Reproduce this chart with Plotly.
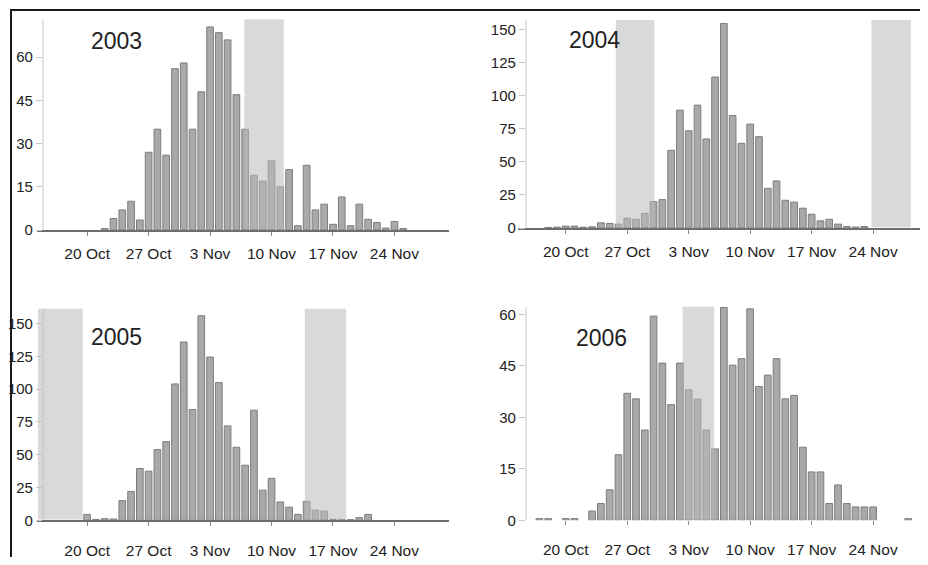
import plotly.graph_objects as go
import pandas as pd

# the page places the figure 8 px from the top-left corner of the window
OFF = 8
W, H = 928 - OFF, 565 - OFF

# ---------------- data (daily counts) ----------------
years = [2003, 2004, 2005, 2006]

start_2003 = "2003-10-22"
vals_2003 = [0.5, 4, 7, 10, 3.5, 27, 35, 26, 56, 58, 35, 48, 70.5, 68.5, 66, 47,
             35, 19, 17, 24, 15, 21, 1.5, 22.5, 7, 9, 2, 11.5, 1.5, 9, 3.75, 2.6,
             0.7, 3, 0.5]

start_2004 = "2004-10-18"
vals_2004 = [0.5, 0.7, 1.5, 1.5, 0.7, 1, 4, 3.5, 3, 7.4, 6.7, 11, 20, 21.5, 58.7,
             89, 73.5, 92.8, 67.3, 114, 154.5, 85, 64, 78.5, 69, 30, 35.6, 21,
             19.6, 15, 10.5, 5.5, 6.7, 3, 1.2, 0.8, 1.2]

start_2005 = "2005-10-20"
vals_2005 = [4.5, 0.7, 1.2, 1, 15, 22, 39.5, 37.5, 54, 60, 104, 136, 84.5, 156,
             124.5, 105, 72, 55.7, 42, 84, 23, 32, 14, 10, 4.5, 14.5, 7.75, 7,
             0.75, 0.5, 0.5, 2, 4.5]

start_2006 = "2006-10-17"
vals_2006 = [0.5, 0.5, 0, 0.5, 0.5, 0, 2.7, 4.9, 8.9, 19.1, 37, 35.4, 26.3, 59.5,
             45.8, 33.7, 45.8, 38, 35.3, 26.3, 20.8, 62, 45.2, 47.1, 61.6, 39,
             42.3, 47.1, 35.4, 36.4, 21.3, 14.1, 14.1, 4.9, 10.3, 4.9, 3.9, 3.9,
             3.9, 0, 0, 0, 0.5]

# shaded periods, in days after 20 October
shade_2003 = [(17.9, 22.4)]
shade_2004 = [(5.7, 10.1), (34.8, 39.3)]
shade_2005 = [(-5.6, -0.5), (24.8, 29.5)]
shade_2006 = [(13.3, 16.9)]

# tick labels
xtick_days = [0, 7, 14, 21, 28, 35]
yticks_2003 = [0, 15, 30, 45, 60]
yticks_2004 = [0, 25, 50, 75, 100, 125, 150]
yticks_2005 = [0, 25, 50, 75, 100, 125, 150]
yticks_2006 = [0, 15, 30, 45, 60]

ymax_2003, ymax_2004, ymax_2005, ymax_2006 = 73.2, 157, 161.3, 62.2

# ---------------- layout geometry (window pixels) ----------------
panels = [
    dict(year=2003, start=start_2003, vals=vals_2003, shade=shade_2003, yt=yticks_2003,
         ymax=ymax_2003, xl=35, xr=448, yt_px=18.3, yb_px=232.7, yax=41,
         xr_days=(-5.72, 41.22), label=(115, 41), baseline=True, stand=5),
    dict(year=2004, start=start_2004, vals=vals_2004, shade=shade_2004, yt=yticks_2004,
         ymax=ymax_2004, xl=517, xr=926, yt_px=19.3, yb_px=230.7, yax=525,
         xr_days=(-5.45, 41.02), label=(594, 40), baseline=True, stand=5),
    dict(year=2005, start=start_2005, vals=vals_2005, shade=shade_2005, yt=yticks_2005,
         ymax=ymax_2005, xl=35, xr=448, yt_px=312.7, yb_px=527.7, yax=41,
         xr_days=(-5.72, 41.22), label=(115, 341), baseline=True, stand=11),
    dict(year=2006, start=start_2006, vals=vals_2006, shade=shade_2006, yt=yticks_2006,
         ymax=ymax_2006, xl=517, xr=926, yt_px=310.7, yb_px=527.7, yax=525,
         xr_days=(-5.45, 41.02), label=(601, 342), baseline=False, stand=11),
]


def px_x(p):
    return (p - OFF) / W


def px_y(p):
    return 1 - (p - OFF) / H


FONT = "Liberation Sans, Arial, Helvetica, sans-serif"
DAY_MS = 86400000

fig = go.Figure()
shapes = []
annotations = []
layout = {}

for i, p in enumerate(panels, start=1):
    sfx = "" if i == 1 else str(i)
    ref = pd.Timestamp(f"{p['year']}-10-20")
    dates = pd.date_range(p["start"], periods=len(p["vals"]), freq="D")
    yvals = [v if v > 0 else None for v in p["vals"]]
    fig.add_trace(go.Bar(
        x=dates, y=yvals, xaxis="x" + sfx, yaxis="y" + sfx,
        width=0.76 * DAY_MS,
        marker=dict(color="#a9a9a9", line=dict(color="#7d7d7d", width=1)),
        hoverinfo="x+y",
    ))
    x0 = ref + pd.Timedelta(days=p["xr_days"][0])
    x1 = ref + pd.Timedelta(days=p["xr_days"][1])
    layout["xaxis" + sfx] = dict(
        domain=[px_x(p["xl"]), min(1.0, px_x(p["xr"]))],
        range=[x0.isoformat(), x1.isoformat()],
        type="date",
        anchor="y" + sfx,
        tickvals=[(ref + pd.Timedelta(days=d)).isoformat() for d in xtick_days],
        tickformat="%-d %b",
        ticks="outside", ticklen=4, tickcolor="#8a8a8a", tickwidth=1,
        showline=p["baseline"], linecolor="#6e6e6e", linewidth=1.5,
        showgrid=False, zeroline=False,
        tickfont=dict(family=FONT, size=15.5, color="#222"),
        ticklabelstandoff=p["stand"],
    )
    layout["yaxis" + sfx] = dict(
        domain=[px_y(p["yb_px"]), px_y(p["yt_px"])],
        range=[0, p["ymax"]],
        anchor="free", position=px_x(p["yax"]),
        tickvals=p["yt"],
        ticks="outside", ticklen=6, tickcolor="#c8c8c8", tickwidth=1,
        showline=True, linecolor="#e4e4e4", linewidth=2,
        showgrid=False, zeroline=False,
        tickfont=dict(family=FONT, size=15, color="#222"),
    )
    for a, b in p["shade"]:
        shapes.append(dict(
            type="rect", xref="x" + sfx, yref=f"y{sfx} domain",
            x0=(ref + pd.Timedelta(days=a)).isoformat(),
            x1=(ref + pd.Timedelta(days=b)).isoformat(),
            y0=0.004, y1=1,
            fillcolor="rgba(185,185,185,0.55)", line=dict(width=0), layer="above",
        ))
    annotations.append(dict(
        text=str(p["year"]), xref="paper", yref="paper",
        x=px_x(p["label"][0]), y=px_y(p["label"][1]),
        xanchor="center", yanchor="middle", showarrow=False,
        font=dict(family=FONT, size=23, color="#222"),
    ))

# outer frame: left and top edges
shapes.append(dict(type="line", xref="paper", yref="paper",
                   x0=1 / W, x1=1 / W, y0=0, y1=1,
                   line=dict(color="#1a1a1a", width=2), layer="above"))
shapes.append(dict(type="line", xref="paper", yref="paper",
                   x0=0, x1=1, y0=1 - 1 / H, y1=1 - 1 / H,
                   line=dict(color="#1a1a1a", width=2), layer="above"))

fig.update_layout(
    width=W, height=H,
    margin=dict(l=0, r=0, t=0, b=0),
    paper_bgcolor="white", plot_bgcolor="white",
    showlegend=False,
    shapes=shapes, annotations=annotations,
    **layout,
)

fig.write_html("out.html")
